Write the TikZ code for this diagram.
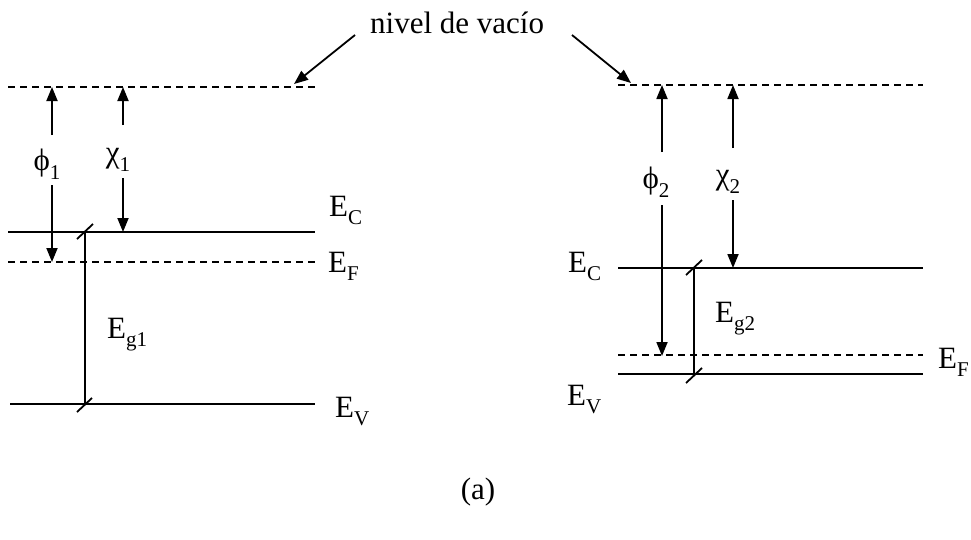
\documentclass[tikz,border=0pt]{standalone}
\usepackage{fontspec}
\setmainfont{Liberation Serif}
\usetikzlibrary{arrows.meta}
\newcommand\lsub[1]{\raisebox{-0.28em}{\fontsize{21}{21}\selectfont #1}}
\begin{document}
\begin{tikzpicture}[x=1pt,y=-1pt,
  lvl/.style={line width=2pt},
  dlvl/.style={line width=2pt,dash pattern=on 7pt off 5pt},
  arr/.style={line width=1.8pt,-{Triangle[length=14pt,width=11pt]}},
  tickmark/.style={line width=1.8pt},
  lab/.style={font=\fontsize{31}{36}\selectfont, inner sep=0pt, anchor=base west},
  clab/.style={font=\fontsize{31}{36}\selectfont, inner sep=0pt, anchor=center}]
\useasboundingbox (0,0) rectangle (971,539);

% ---------- coordinates: left semiconductor ----------
\coordinate (vacL1) at (8,87);   \coordinate (vacL2) at (315,87);
\coordinate (ecL1)  at (8,232);  \coordinate (ecL2)  at (315,232);
\coordinate (efL1)  at (8,262);  \coordinate (efL2)  at (315,262);
\coordinate (evL1)  at (10,404); \coordinate (evL2)  at (315,404);

% ---------- coordinates: right semiconductor ----------
\coordinate (vacR1) at (618,85);  \coordinate (vacR2) at (923,85);
\coordinate (ecR1)  at (618,268); \coordinate (ecR2)  at (923,268);
\coordinate (efR1)  at (618,355); \coordinate (efR2)  at (923,355);
\coordinate (evR1)  at (618,374); \coordinate (evR2)  at (923,374);

% ---------- levels ----------
\draw[dlvl] (vacL1) -- (vacL2);
\draw[lvl]  (ecL1) -- (ecL2);
\draw[dlvl] (efL1) -- (efL2);
\draw[lvl]  (evL1) -- (evL2);

\draw[dlvl] (vacR1) -- (vacR2);
\draw[lvl]  (ecR1) -- (ecR2);
\draw[dlvl] (efR1) -- (efR2);
\draw[lvl]  (evR1) -- (evR2);

% ---------- labels ----------
\node[lab] (ecLlab) at (329,216) {E\lsub{C}};
\node[lab] (efLlab) at (328,272) {E\lsub{F}};
\node[lab] (evLlab) at (335,417) {E\lsub{V}};
\node[lab] (ecRlab) at (568,272) {E\lsub{C}};
\node[lab] (evRlab) at (567,405) {E\lsub{V}};
\node[lab] (efRlab) at (938,368) {E\lsub{F}};
\node[lab] (eg1lab) at (107,338) {E\lsub{g1}};
\node[lab] (eg2lab) at (715,322) {E\lsub{g2}};

\node[clab] (phi1) at (47,164) {ϕ\lsub{1}};
\node[clab] (chi1) at (118,160) {χ\lsub{1}};
\node[clab] (phi2) at (656,182) {ϕ\lsub{2}};
\node[clab] (chi2) at (728,182) {χ\lsub{2}};

\node[lab] (title) at (370,33) {nivel de vacío};
\node[clab] (cap) at (478,492) {(a)};

% ---------- arrows: phi1, chi1 ----------
\coordinate (p1top) at (52,87);  \coordinate (p1a) at (52,135);
\coordinate (p1b) at (52,185);   \coordinate (p1bot) at (52,262);
\coordinate (c1top) at (123,87); \coordinate (c1a) at (123,125);
\coordinate (c1b) at (123,178);  \coordinate (c1bot) at (123,232);
\draw[arr] (p1a) -- (p1top);
\draw[arr] (p1b) -- (p1bot);
\draw[arr] (c1a) -- (c1top);
\draw[arr] (c1b) -- (c1bot);

% ---------- arrows: phi2, chi2 ----------
\coordinate (p2top) at (662,85);  \coordinate (p2a) at (662,152);
\coordinate (p2b) at (662,205);   \coordinate (p2bot) at (662,356);
\coordinate (c2top) at (733,85);  \coordinate (c2a) at (733,148);
\coordinate (c2b) at (733,200);   \coordinate (c2bot) at (733,268);
\draw[arr] (p2a) -- (p2top);
\draw[arr] (p2b) -- (p2bot);
\draw[arr] (c2a) -- (c2top);
\draw[arr] (c2b) -- (c2bot);

% ---------- band gaps ----------
\coordinate (g1top) at (85,232); \coordinate (g1bot) at (85,404);
\coordinate (g2top) at (694,268); \coordinate (g2bot) at (694,374);
\draw[lvl] (g1top) -- (g1bot);
\draw[lvl] (g2top) -- (g2bot);
\draw[tickmark] (77,239) -- (93,224);
\draw[tickmark] (77,412) -- (92,398);
\draw[tickmark] (686,275) -- (702,260);
\draw[tickmark] (686,383) -- (702,368);

% ---------- vacuum level pointers ----------
\coordinate (tL) at (355,35); \coordinate (tR) at (572,35);
\coordinate (vL) at (294,84); \coordinate (vR) at (631,83);
\draw[arr] (tL) -- (vL);
\draw[arr] (tR) -- (vR);
\end{tikzpicture}
\end{document}
